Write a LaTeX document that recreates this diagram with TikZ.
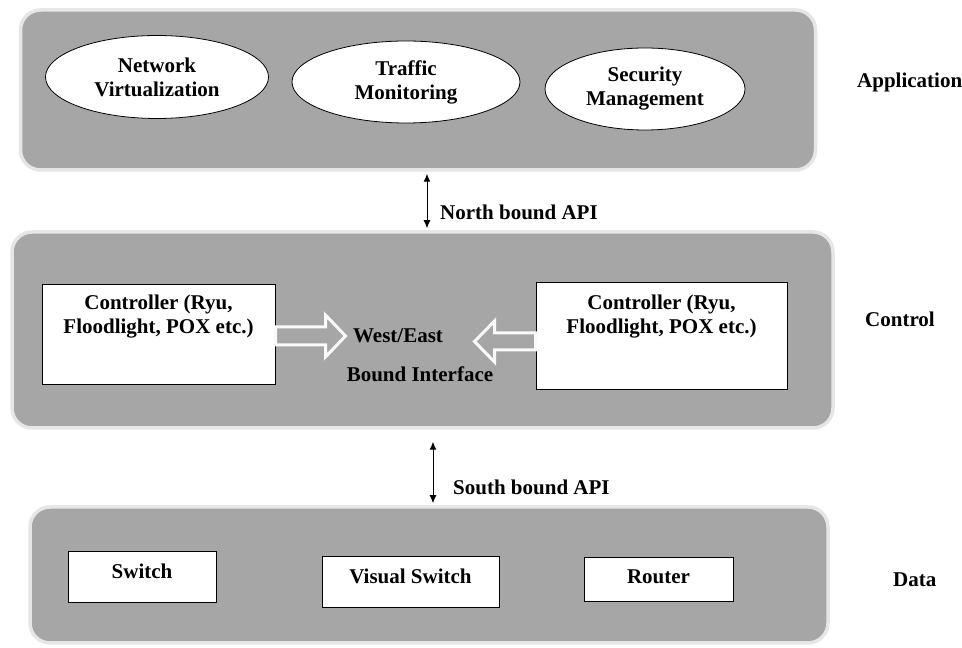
\documentclass[tikz,border=0pt]{standalone}
\usepackage{fontspec}
\setmainfont{Liberation Serif}
\usetikzlibrary{shapes,arrows,arrows.meta,calc,positioning}
\definecolor{panelgray}{RGB}{166,166,166}
\definecolor{rimgray}{RGB}{230,230,230}

\begin{document}
\begin{tikzpicture}[x=1pt, y=1pt,
  layer/.style={draw=rimgray, line width=3.5pt, fill=panelgray, rounded corners=20pt},
  txt/.style={font=\bfseries\fontsize{21}{24}\selectfont, align=center, inner sep=0pt},
  oval/.style={draw, ellipse, fill=white, line width=0.8pt, txt},
  box/.style={draw, fill=white, line width=1pt},
  hollow/.style={draw=white!96!gray, line width=3pt, fill=panelgray, line join=miter},
  api/.style={line width=1pt, {Latex[length=8pt,width=7pt]}-{Latex[length=8pt,width=7pt]}}]

\useasboundingbox (0,0) rectangle (962,648);

%nodes
\node [layer, minimum width=795pt, minimum height=160pt](1) at (418,558){};
\node [oval, minimum width=223pt, minimum height=83pt](2) at (157,571){Network\\Virtualization};
\node [oval, minimum width=228pt, minimum height=82pt](3) at (406,566){Traffic\\Monitoring};
\node [oval, minimum width=200pt, minimum height=82pt](4) at (645,559){Security\\Management};
\node [txt, anchor=base west](5) at (857,560){Application};

\node [layer, minimum width=821pt, minimum height=196pt](6) at (422.5,318){};
\node [box, minimum width=233pt, minimum height=100pt](7) at (158.5,313){};
\node [txt, below=10pt of 7.north](8){Controller (Ryu,\\Floodlight, POX etc.)};
\node [box, minimum width=251pt, minimum height=107pt](9) at (661.5,311.5){};
\node [txt, below=12pt of 9.north](10){Controller (Ryu,\\Floodlight, POX etc.)};
\node [txt, anchor=base](11) at (398,305){West/East};
\node [txt, anchor=base](12) at (420,266){Bound Interface};
\node [txt, anchor=base west](13) at (865,321){Control};

\node [layer, minimum width=798pt, minimum height=136pt](14) at (429,73){};
\node [box, minimum width=148pt, minimum height=51pt](15) at (142,70.5){};
\node [txt, below=12pt of 15.north](16){Switch};
\node [box, minimum width=177pt, minimum height=51pt](17) at (410.5,65.5){};
\node [txt, below=12pt of 17.north](18){Visual Switch};
\node [box, minimum width=149pt, minimum height=44pt](19) at (658.5,68){};
\node [txt, below=12pt of 19.north](20){Router};
\node [txt, anchor=base west](21) at (893,61){Data};

%arrows
\draw [api] ([xshift=9pt,yshift=-2pt]1.south) -- ([xshift=9pt,yshift=2pt]1.south |- 6.north);
\node [txt, anchor=base west](22) at (440,428){North bound API};

\draw [api] ([xshift=10.5pt,yshift=-12pt]6.south) -- ([xshift=10.5pt,yshift=2pt]6.south |- 14.north);
\node [txt, anchor=base west](23) at (453,153){South bound API};

\draw [hollow] ([yshift=8pt]7.east) -- ++(50,0) -- ++(0,12) -- ++(20,-21) -- ++(-20,-21) -- ++(0,12) -- ++(-50,0) -- cycle;
\draw [hollow] ([yshift=3.5pt]9.west) -- ++(-41,0) -- ++(0,12) -- ++(-20,-20.5) -- ++(20,-20.5) -- ++(0,12) -- ++(41,0) -- cycle;

\end{tikzpicture}
\end{document}
